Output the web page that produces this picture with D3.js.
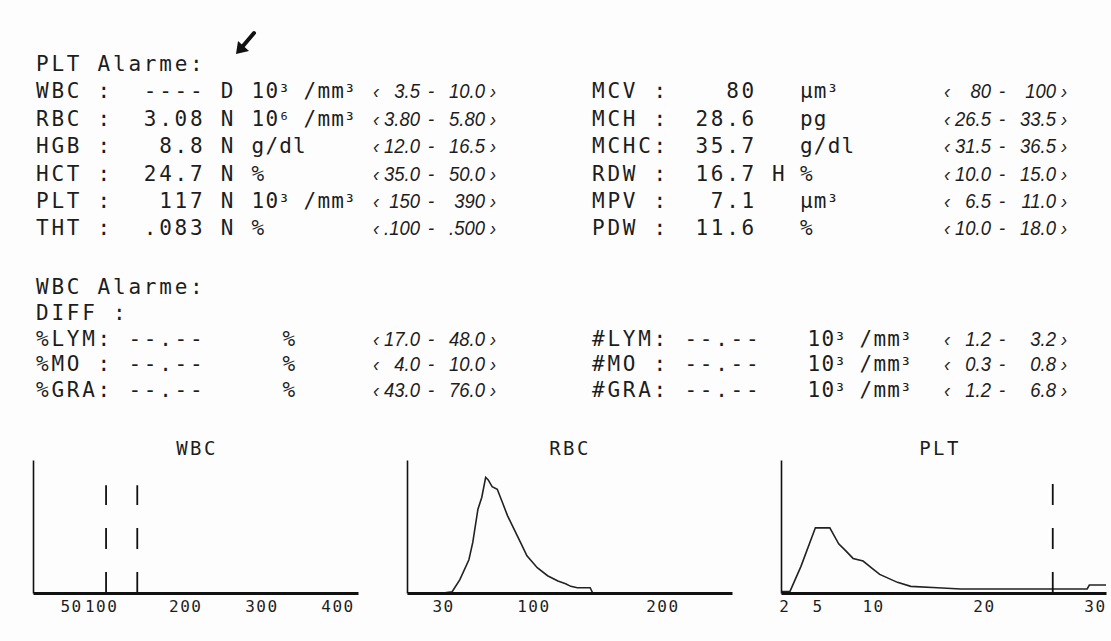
<!DOCTYPE html>
<html><head><meta charset="utf-8">
<script src="https://cdn.jsdelivr.net/npm/d3@7"></script>
<style>
body{margin:0;background:#fdfdfd;}
svg{display:block;}
.mono{font-family:"DejaVu Sans Mono",monospace;font-size:21px;letter-spacing:2.76px;fill:#1d1d1d;}
.mono.unit{letter-spacing:1.2px;}
.rng text{font-family:"Liberation Sans",Arial,sans-serif;font-style:italic;font-size:21px;fill:#1d1d1d;}
.title{font-family:"DejaVu Sans Mono",monospace;font-size:19px;letter-spacing:2.4px;fill:#1d1d1d;}
.tick text{font-family:"DejaVu Sans Mono",monospace;font-size:16px;letter-spacing:1.5px;fill:#1d1d1d;}
</style></head><body>
<script>
// ---- data ----
const topLabels = ["WBC", "RBC", "HGB", "HCT", "PLT", "THT"];
const topValues = ["----", "3.08", "8.8", "24.7", "117", ".083"];
const topFlags  = ["D", "N", "N", "N", "N", "N"];
const topUnits  = ["10³ /mm³", "10⁶ /mm³", "g/dl", "%", "10³ /mm³", "%"];
const topLo     = ["3.5", "3.80", "12.0", "35.0", "150", ".100"];
const topHi     = ["10.0", "5.80", "16.5", "50.0", "390", ".500"];

const rightLabels = ["MCV", "MCH", "MCHC", "RDW", "MPV", "PDW"];
const rightValues = ["80", "28.6", "35.7", "16.7", "7.1", "11.6"];
const rightFlags  = ["", "", "", "H", "", ""];
const rightUnits  = ["µm³", "pg", "g/dl", "%", "µm³", "%"];
const rightLo     = ["80", "26.5", "31.5", "10.0", "6.5", "10.0"];
const rightHi     = ["100", "33.5", "36.5", "15.0", "11.0", "18.0"];

const diffLabels = ["%LYM", "%MO", "%GRA"];
const diffValues = ["--.--", "--.--", "--.--"];
const diffLo     = ["17.0", "4.0", "43.0"];
const diffHi     = ["48.0", "10.0", "76.0"];
const absLabels  = ["#LYM", "#MO", "#GRA"];
const absValues  = ["--.--", "--.--", "--.--"];
const absLo      = ["1.2", "0.3", "1.2"];
const absHi      = ["3.2", "0.8", "6.8"];

const wbcTicks = [50, 100, 200, 300, 400];
const wbcThresholds = [96, 137];

const rbcTicks  = [30, 100, 200];
const rbcSizes  = [30, 37, 43, 50, 53, 57, 60, 63, 65, 68, 72, 76, 80, 85, 90, 95, 103, 111, 119, 125, 129, 134, 144, 146, 254];
const rbcCounts = [0, 1, 10, 25, 38, 63, 72, 87, 85, 80, 78, 68, 58, 48, 38, 28, 19, 13, 9, 7, 5, 4, 4, 0, 0];

const pltTicks  = [2, 5, 10, 20, 30];
const pltThresholds = [26.2];
const pltSizes  = [1.7, 2.5, 3.5, 4.8, 6.1, 6.9, 7.5, 8.2, 9.1, 10, 10.6, 12.2, 13.4, 15.8, 17.9, 22, 26, 29.3, 29.5, 31];
const pltCounts = [1, 1, 20, 49, 49, 37, 32, 26, 24, 18, 14, 8, 5, 4, 3, 3, 3, 3, 6, 6];

// ---- layout ----
const width = 1111, height = 641;
const COL = 15.4, LX = 36, RX = 592;
const topY0 = 71, topDY = 27.4;
const botY0 = 294, botDY = 25.8;

const svg = d3.select('body').append('svg')
  .attr('width', width)
  .attr('height', height);
svg.append('rect').attr('width', width).attr('height', height).attr('fill', '#fdfdfd');

const txt = svg.append('g');

const mono = (x, y, s, cls) => {
  const t = txt.append('text').attr('class', cls ? 'mono ' + cls : 'mono').attr('x', x).attr('y', y);
  s.split(/([³⁶])/).forEach(part => {
    if (!part) return;
    const sp = t.append('tspan').text(part);
    // printer superscripts sit tight against the digit
    if (/[³⁶]/.test(part)) sp.attr('font-size', 19).attr('dx', -1).style('letter-spacing', '0px');
  });
};
const unit = (x, y, s) => mono(x, y, s, 'unit');
const col = (x0, c) => x0 + c * COL;
// right-aligned value whose last cell ends at x
const valueEnd = (xEnd, y, s) => mono(xEnd - s.length * COL, y, s);

// reference ranges use a narrow italic face
const range = (x, y, lo, hi) => {
  const r = txt.append('g').attr('class', 'rng');
  const put = (px, anchor, s) => r.append('text')
    .attr('transform', `translate(${px},${y}) scale(0.88,1)`)
    .attr('text-anchor', anchor).text(s);
  put(x, 'start', '‹');
  put(x + 47, 'end', lo);
  put(x + 58, 'middle', '-');
  put(x + 112, 'end', hi);
  put(x + 117, 'start', '›');
};
const LRX = 373, RRX = 944;

// top block
mono(LX, topY0, 'PLT Alarme:');
topLabels.forEach((l, i) => {
  const y = topY0 + (i + 1) * topDY;
  mono(LX, y, l.padEnd(4) + ':');
  valueEnd(col(LX, 11), y, topValues[i]);
  mono(col(LX, 12), y, topFlags[i]);
  unit(col(LX, 14), y, topUnits[i]);
  range(LRX, y, topLo[i], topHi[i]);
});
rightLabels.forEach((l, i) => {
  const y = topY0 + (i + 1) * topDY;
  mono(RX, y, l.padEnd(4) + ':');
  valueEnd(757, y, rightValues[i]);
  if (rightFlags[i]) mono(772, y, rightFlags[i]);
  unit(800, y, rightUnits[i]);
  range(RRX, y, rightLo[i], rightHi[i]);
});

// WBC differential block
mono(LX, botY0, 'WBC Alarme:');
mono(LX, botY0 + botDY, 'DIFF :');
diffLabels.forEach((l, i) => {
  const y = botY0 + (i + 2) * botDY;
  mono(LX, y, l.padEnd(4) + ':');
  valueEnd(col(LX, 11), y, diffValues[i]);
  unit(col(LX, 16), y, '%');
  range(LRX, y, diffLo[i], diffHi[i]);
});
absLabels.forEach((l, i) => {
  const y = botY0 + (i + 2) * botDY;
  mono(RX, y, l.padEnd(4) + ':');
  valueEnd(col(RX, 11), y, absValues[i]);
  unit(col(RX, 14), y, '10³ /mm³');
  range(RRX, y, absLo[i], absHi[i]);
});

// hand-drawn arrow mark
svg.append('path')
  .attr('d', 'M254,33 L243,46')
  .attr('stroke', '#111').attr('stroke-width', 4).attr('stroke-linecap', 'round');
svg.append('path')
  .attr('d', 'M236,54 L238,41 L249,51 Z')
  .attr('fill', '#111');

// ---- histograms ----
const base = 593;
const y = d3.scaleLinear().domain([0, 100]).range([base, 460]);

const hist = cfg => {
  const x = d3.scaleLinear().domain(cfg.domain).range([cfg.left, cfg.right]);
  const g = svg.append('g');

  g.append('text').attr('class', 'title')
    .attr('x', cfg.titleX).attr('y', 455).attr('text-anchor', 'middle').text(cfg.title);

  if (cfg.sizes) {
    g.append('path')
      .datum(d3.zip(cfg.sizes, cfg.counts))
      .attr('fill', 'none').attr('stroke', '#222').attr('stroke-width', 1.6)
      .attr('d', d3.line().x(d => x(d[0])).y(d => y(d[1])));
  }

  (cfg.thresholds || []).forEach(t => {
    g.append('line')
      .attr('x1', x(t)).attr('x2', x(t))
      .attr('y1', base).attr('y2', y(cfg.dashTop))
      .attr('stroke', '#111').attr('stroke-width', 1.8)
      .attr('stroke-dasharray', '21 23');
  });

  const ax = g.append('g').attr('transform', `translate(0,${base})`)
    .call(d3.axisBottom(x).tickValues(cfg.ticks).tickSize(0).tickPadding(8).tickFormat(d3.format('d')));
  ax.select('.domain').attr('stroke', '#111').attr('stroke-width', 3.2);
  if (cfg.shift) ax.selectAll('.tick text').attr('dx', d => cfg.shift[d] || 0);

  g.append('g').attr('transform', `translate(${cfg.left},0)`)
    .call(d3.axisLeft(y).tickValues([]).tickSizeOuter(0))
    .select('.domain').attr('stroke', '#111').attr('stroke-width', 1.6);
};

hist({ title: 'WBC', titleX: 197, domain: [0, 427], left: 33, right: 358,
       ticks: wbcTicks, thresholds: wbcThresholds, dashTop: 81, shift: { 100: -8 } });
hist({ title: 'RBC', titleX: 570, domain: [2, 254], left: 407, right: 732,
       ticks: rbcTicks, sizes: rbcSizes, counts: rbcCounts });
hist({ title: 'PLT', titleX: 940, domain: [1.7, 31], left: 781, right: 1106,
       ticks: pltTicks, sizes: pltSizes, counts: pltCounts, thresholds: pltThresholds, dashTop: 85 });
</script>
</body></html>
